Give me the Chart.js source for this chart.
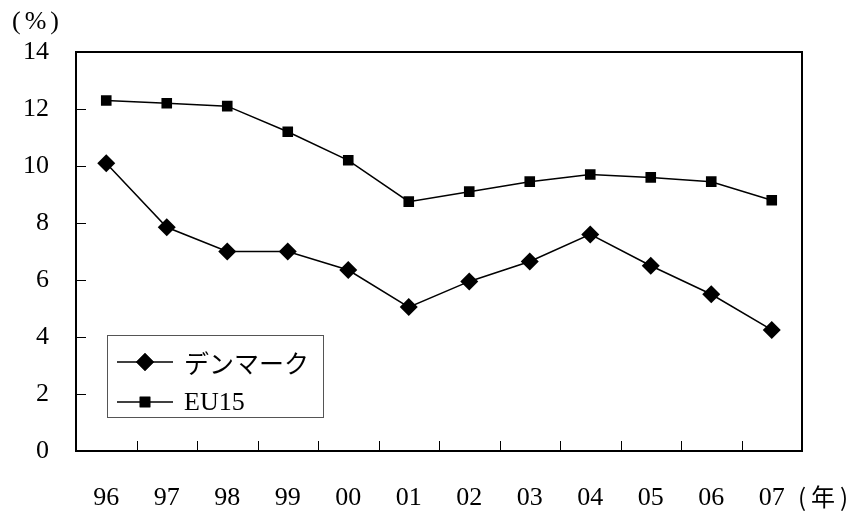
<!DOCTYPE html>
<html lang="ja">
<head>
<meta charset="UTF-8">
<title>デンマーク / EU15</title>
<script src="https://cdn.jsdelivr.net/npm/chart.js"></script>
<style>
  html, body { margin: 0; padding: 0; background: #fff; }
  #wrap { width: 852px; height: 515px; position: relative; }
</style>
</head>
<body>
<div id="wrap"><canvas id="grafico" width="852" height="515"></canvas></div>
<script>
// datos
const years = ['96', '97', '98', '99', '00', '01', '02', '03', '04', '05', '06', '07'];
const denmark = [10.1, 7.85, 7.0, 7.0, 6.35, 5.05, 5.95, 6.65, 7.6, 6.5, 5.5, 4.25];
const eu15 = [12.3, 12.2, 12.1, 11.2, 10.2, 8.75, 9.1, 9.45, 9.7, 9.6, 9.45, 8.8];
const yTicks = [0, 2, 4, 6, 8, 10, 12, 14];

const serif = '"Liberation Serif", "DejaVu Serif", serif';
const jp = '"Noto Sans CJK JP", sans-serif';

// marco, marcas hacia dentro, leyenda y etiquetas de ejes
const extras = {
  id: 'extras',
  afterDraw(chart) {
    const ctx = chart.ctx;
    const a = chart.chartArea;
    const x = chart.scales.x, y = chart.scales.y;
    ctx.save();
    ctx.strokeStyle = '#000';
    ctx.lineWidth = 2;
    ctx.strokeRect(a.left, a.top, a.right - a.left, a.bottom - a.top);

    ctx.lineWidth = 1;
    ctx.beginPath();
    yTicks.forEach(v => {
      if (v === 0 || v === 14) return;
      const py = Math.round(y.getPixelForValue(v)) + 0.5;
      ctx.moveTo(a.left, py); ctx.lineTo(a.left + 10, py);
    });
    for (let i = 1; i < years.length; i++) {
      const px = Math.round((x.getPixelForTick(i - 1) + x.getPixelForTick(i)) / 2) + 0.5;
      ctx.moveTo(px, a.bottom); ctx.lineTo(px, a.bottom - 10);
    }
    ctx.stroke();

    // leyenda
    const lx = 107, ly = 335, lw = 216, lh = 82;
    ctx.strokeStyle = '#555';
    ctx.lineWidth = 1;
    ctx.strokeRect(lx + 0.5, ly + 0.5, lw, lh);
    const rows = [
      { label: 'デンマーク', style: 'rectRot', r: 9, y: 362, font: '25px ' + jp },
      { label: 'EU15', style: 'rect', r: 7.5, y: 402, font: '26px ' + serif }
    ];
    rows.forEach(row => {
      ctx.strokeStyle = '#000';
      ctx.lineWidth = 1.5;
      ctx.beginPath();
      ctx.moveTo(117, row.y); ctx.lineTo(173, row.y);
      ctx.stroke();
      ctx.fillStyle = '#000';
      Chart.helpers.drawPoint(ctx, { pointStyle: row.style, radius: row.r, borderWidth: 0 }, 145, row.y);
      ctx.fill();
      ctx.font = row.font;
      ctx.textBaseline = 'middle';
      ctx.textAlign = 'left';
      ctx.fillText(row.label, 184, row.y + 1);
    });

    // unidades
    ctx.fillStyle = '#000';
    ctx.textBaseline = 'middle';
    ctx.textAlign = 'left';
    ctx.font = '26px ' + serif;
    ctx.letterSpacing = '4px';
    ctx.fillText('(%)', 12, 22);
    ctx.font = '24px ' + jp;
    ctx.letterSpacing = '5px';
    ctx.fillText('(年)', 798, 497);
    ctx.restore();
  }
};

new Chart(document.getElementById('grafico').getContext('2d'), {
  type: 'line',
  data: {
    labels: years,
    datasets: [
      {
        label: 'デンマーク',
        data: denmark,
        borderColor: '#000',
        backgroundColor: '#000',
        borderWidth: 1.5,
        pointStyle: 'rectRot',
        pointRadius: 9,
        pointBorderWidth: 0,
        tension: 0
      },
      {
        label: 'EU15',
        data: eu15,
        borderColor: '#000',
        backgroundColor: '#000',
        borderWidth: 1.5,
        pointStyle: 'rect',
        pointRadius: 7.5,
        pointBorderWidth: 0,
        tension: 0
      }
    ]
  },
  options: {
    responsive: false,
    animation: false,
    layout: { padding: { top: 52, right: 50, left: 0, bottom: 0 } },
    plugins: { legend: { display: false }, tooltip: { enabled: false } },
    scales: {
      x: {
        offset: true,
        grid: { display: false },
        border: { display: false },
        ticks: { color: '#000', font: { family: serif, size: 26 }, padding: 24, maxRotation: 0 },
        afterFit(s) { s.height = 64; }
      },
      y: {
        min: 0,
        max: 14,
        grid: { display: false },
        border: { display: false },
        afterBuildTicks(s) { s.ticks = yTicks.map(v => ({ value: v })); },
        ticks: { color: '#000', font: { family: serif, size: 26 }, padding: 19 },
        afterFit(s) { s.width = 76; }
      }
    }
  },
  plugins: [extras]
});
</script>
</body>
</html>
